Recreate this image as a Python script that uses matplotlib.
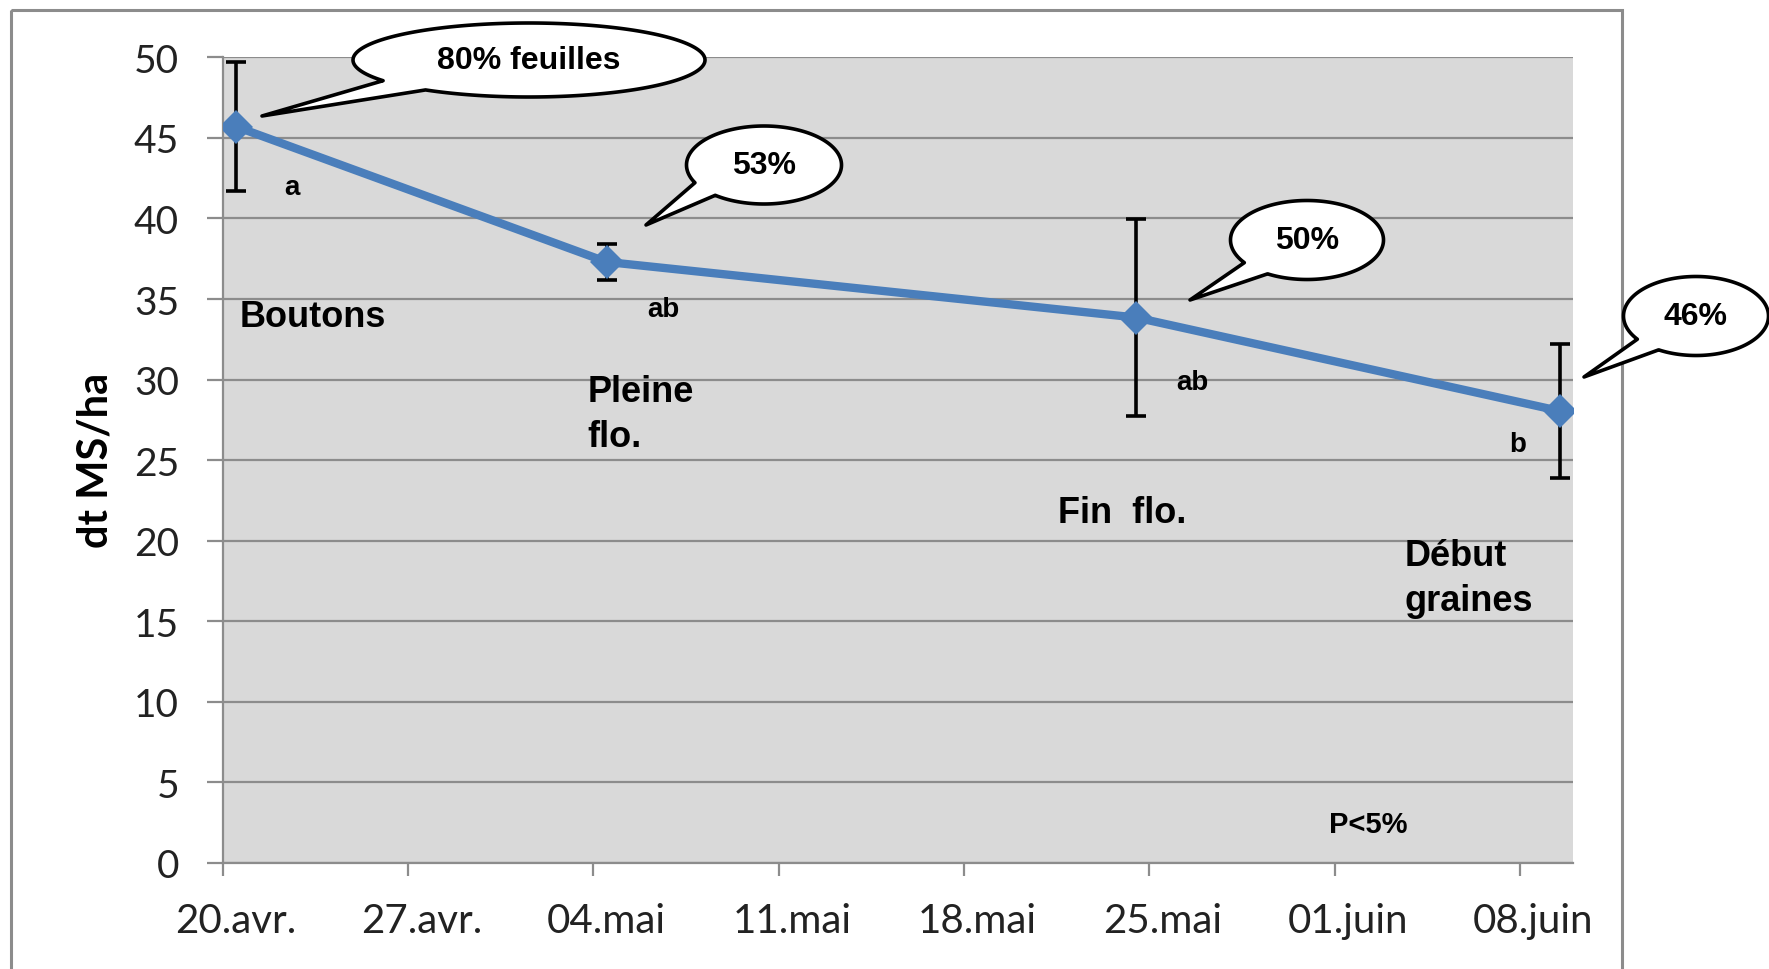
import matplotlib
matplotlib.use("Agg")
import matplotlib.pyplot as plt
import matplotlib.dates as mdates
from matplotlib.patches import Polygon, Rectangle
import numpy as np

# donnees
sample_dates = ['2011-04-20', '2011-05-04', '2011-05-24', '2011-06-09']
yield_dm = [45.7, 37.3, 33.85, 28.05]      # dt MS/ha
yield_err = [4.0, 1.1, 6.1, 4.15]
stat_groups = ['a', 'ab', 'ab', 'b']
stages = ['Boutons', 'Pleine\nflo.', 'Fin  flo.', 'Début\ngraines']
leaf_share = ['80% feuilles', '53%', '50%', '46%']
tick_dates = ['2011-04-20', '2011-04-27', '2011-05-04', '2011-05-11',
              '2011-05-18', '2011-05-25', '2011-06-01', '2011-06-08']
tick_labels = ['20.avr.', '27.avr.', '04.mai', '11.mai',
               '18.mai', '25.mai', '01.juin', '08.juin']
y_ticks = [0, 5, 10, 15, 20, 25, 30, 35, 40, 45, 50]

plt.rcParams['font.family'] = ['Lato', 'DejaVu Sans']
W, H = 1769, 970
fig = plt.figure(figsize=(W / 100, H / 100), dpi=100)
ax = fig.add_axes([0.1259, 0.1093, 0.7633, 0.8306])
ax.set_facecolor('#d9d9d9')

x0 = mdates.date2num(np.datetime64('2011-04-20'))
# excel met les points au milieu de la journee
x = mdates.date2num(np.array(sample_dates, dtype='datetime64[D]')) + 0.5
ax.errorbar(x, yield_dm, yerr=yield_err, fmt='none', ecolor='black',
            elinewidth=2.6, capsize=7, capthick=2.6, zorder=2)
ax.plot(x, yield_dm, color='#4a7ebb', lw=6, marker='D', ms=17, mew=0,
        zorder=3)

ax.set_xlim(x0, x0 + 51)
ax.set_ylim(0, 50)
ax.set_yticks(y_ticks)
ax.yaxis.grid(True, color='#8c8c8c', lw=1.6)
ax.set_axisbelow(True)
for side in ['top', 'right']:
    ax.spines[side].set_visible(False)
for side in ['left', 'bottom']:
    ax.spines[side].set_color('#8c8c8c')
    ax.spines[side].set_linewidth(1.6)

tick_num = mdates.date2num(np.array(tick_dates, dtype='datetime64[D]'))
ax.set_xticks(tick_num)
ax.set_xticks(tick_num + 0.5, tick_labels, minor=True)
ax.tick_params(axis='y', length=11.5, width=1.6, color='#8c8c8c', pad=20,
               labelsize=28, labelcolor='#222222')
ax.tick_params(axis='x', which='major', length=9.5, width=1.6,
               color='#8c8c8c', labelbottom=False)
ax.tick_params(axis='x', which='minor', length=0, pad=28,
               labelsize=29, labelcolor='#222222')

fig.text(96 / W, 1 - 460 / H, 'dt MS/ha', rotation=90, ha='center',
         va='center', fontsize=30, fontweight='bold')

arial = dict(family=['Liberation Sans', 'DejaVu Sans'], fontweight='bold')
# lettres des groupes statistiques
group_pos = [(2.6, 41.95), (16.66, 34.4), (36.63, 29.83), (48.9, 25.98)]
for (dx, yy), lab in zip(group_pos, stat_groups):
    ax.text(x0 + dx, yy, lab, fontsize=20, ha='center', va='center', **arial)

# stades (y = ligne de base de la derniere ligne)
stage_pos = [(0.62, 33.31), (13.77, 25.85), (31.53, 21.19), (44.64, 15.72)]
for (dx, yy), lab in zip(stage_pos, stages):
    ax.text(x0 + dx, yy, lab, fontsize=26, ha='left', va='baseline',
            linespacing=1.37, **arial)

ax.text(x0 + 43.25, 1.93, 'P<5%', fontsize=21, ha='center', va='baseline', **arial)

# calque en pixels pour le cadre et les bulles
ov = fig.add_axes([0, 0, 1, 1], zorder=10)
ov.set_xlim(0, W)
ov.set_ylim(H, 0)
ov.axis('off')
ov.patch.set_alpha(0)

ov.add_patch(Rectangle((11, 11), 1611, 1000, fc='none', ec='#8c8c8c',
                       lw=2.2, zorder=1, clip_on=False))


def bulle(ax, cx, cy, w, h, a_lo, a_hi, tip, text):
    t = np.radians(np.linspace(a_hi, a_lo + 360, 300))
    pts = np.column_stack([cx + w / 2 * np.cos(t), cy + h / 2 * np.sin(t)])
    pts = np.vstack([pts, tip])
    ax.add_patch(Polygon(pts, closed=True, fc='white', ec='black', lw=2.6,
                         joinstyle='round', zorder=5, clip_on=False))
    ax.text(cx, cy, text, fontsize=23, ha='center', va='center', zorder=6, **arial)


bubbles = [(529, 61, 352, 74, 126, 146, (262, 117)),
           (764, 166, 155, 78, 129, 153, (646, 226)),
           (1307, 241, 153, 79, 121, 145, (1190, 301)),
           (1696, 317, 145, 79, 121, 144, (1584, 378))]
for (cx, cy, w, h, a1, a2, tip), lab in zip(bubbles, leaf_share):
    bulle(ov, cx, cy, w, h, a1, a2, tip, lab)

fig.savefig('out.png', dpi=100, facecolor='white')
